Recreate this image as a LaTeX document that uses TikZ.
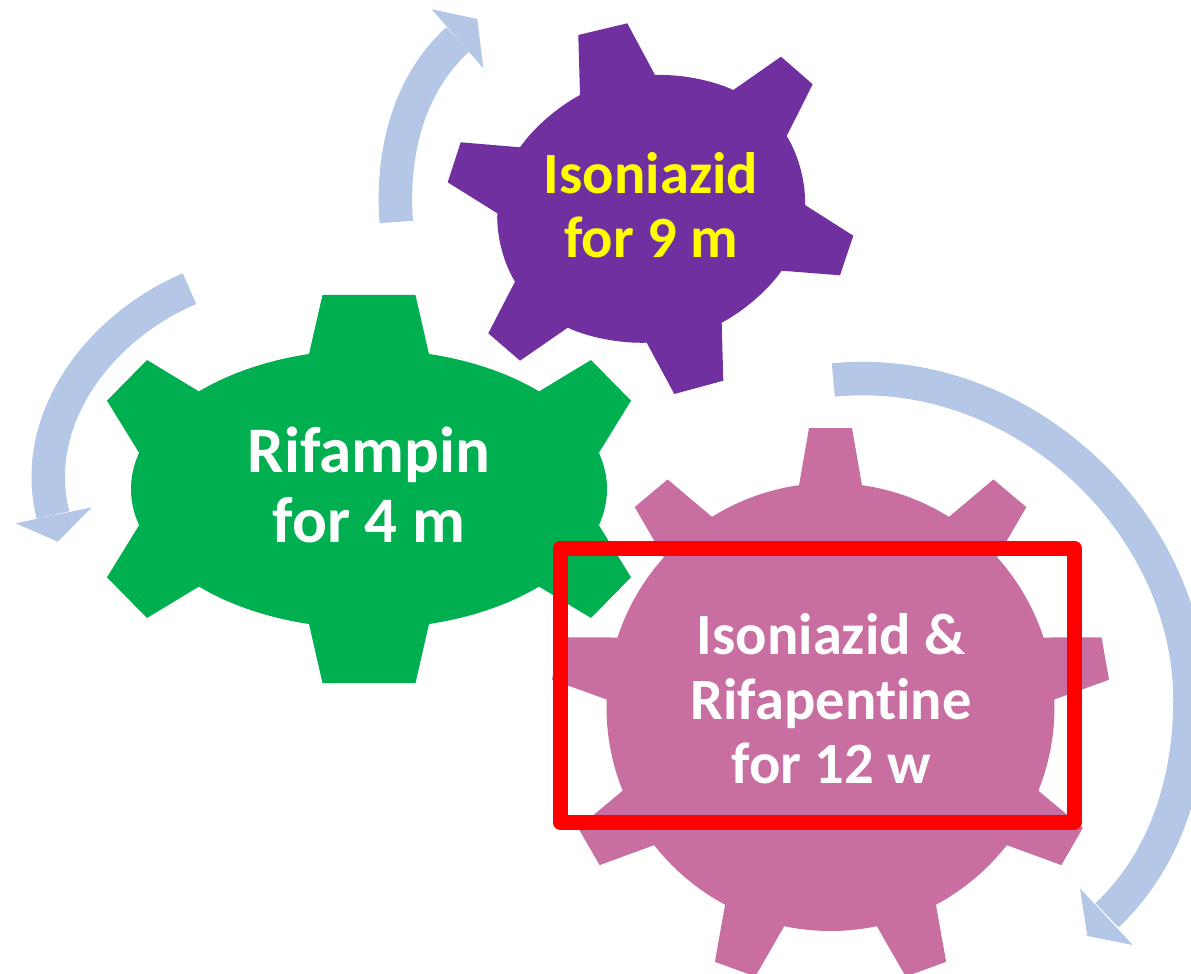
\documentclass[tikz,border=0pt]{standalone}
\usepackage{fontspec}
\setmainfont{Carlito}[Ligatures={NoCommon}]
\usetikzlibrary{calc}
\definecolor{arrowblue}{HTML}{B4C7E7}
\definecolor{gearpurple}{HTML}{7030A0}
\definecolor{geargreen}{HTML}{00B050}
\definecolor{gearpink}{HTML}{C86EA0}
\definecolor{boxred}{HTML}{FF0000}
\definecolor{textyellow}{HTML}{FFFF00}
\begin{document}
\begin{tikzpicture}[x=0.5pt,y=-0.5pt,
  shaft/.style={draw=arrowblue, line width=16.75pt},
  head/.style={fill=arrowblue},
  geartext/.style={align=center, inner sep=0pt, font=\bfseries\fontsize{29.25}{32.25}\selectfont},
  bigtext/.style={align=center, inner sep=0pt, font=\bfseries\fontsize{32.5}{35}\selectfont}]
\useasboundingbox (0,0) rectangle (1191,974);

% ---------- circular arrows ----------
% top arrow
\coordinate (ta0) at (396.3,222);
\coordinate (ta1) at (457.7,39.5);
\coordinate (taw1) at (431.7,9.3);
\coordinate (taw2) at (483.3,68.3);
\coordinate (tat) at (477.3,19);
\draw[shaft] (ta0) .. controls (391.2,154.6) and (407.7,85) .. (ta1);
\fill[head] (taw1) -- (tat) -- (taw2) -- cycle;
% left arrow
\coordinate (la0) at (189.5,288.7);
\coordinate (la1) at (53,515);
\coordinate (law1) at (15.7,523.3);
\coordinate (law2) at (91.7,507.3);
\coordinate (lat) at (57.7,541.7);
\draw[shaft] (la0) .. controls (99,327) and (29,420) .. (la1);
\fill[head] (law1) -- (lat) -- (law2) -- cycle;
% right arrow
\coordinate (ra0) at (833.3,380);
\coordinate (ram) at (1190,700);
\coordinate (ra1) at (1107,915.3);
\coordinate (raw1) at (1080,888.3);
\coordinate (raw2) at (1132.7,945);
\coordinate (rat) at (1087.3,936);
\draw[shaft] (ra0) .. controls (1020.3,361.6) and (1190,522) .. (ram)
  .. controls (1190,780.4) and (1165.5,860.1) .. (ra1);
\fill[head] (raw1) -- (rat) -- (raw2) -- cycle;

% ---------- purple gear ----------
\coordinate (pu) at (651,208);
\fill[gearpurple] plot[smooth cycle, tension=0.6] coordinates {
  (580,95) (655,75) (733.3,90) (786.7,136) (805,205) (781.7,270.7)
  (721.7,322.7) (646.7,342.7) (567.7,327.7) (515,281.7) (497.3,213.3) (520,147.3)};
\fill[gearpurple] (pu) -- (580,95) -- (578.3,35) -- (627.3,23.3) -- (655,75) -- cycle;
\fill[gearpurple] (pu) -- (733.3,90) -- (781,56.7) -- (812.7,84.3) -- (786.7,136) -- cycle;
\fill[gearpurple] (pu) -- (805,205) -- (853.3,235.7) -- (840,275.3) -- (781.7,270.7) -- cycle;
\fill[gearpurple] (pu) -- (721.7,322.7) -- (723.3,380.7) -- (674.3,394) -- (646.7,342.7) -- cycle;
\fill[gearpurple] (pu) -- (567.7,327.7) -- (520,360.7) -- (488.3,333.3) -- (515,281.7) -- cycle;
\fill[gearpurple] (pu) -- (497.3,213.3) -- (447.7,182.3) -- (460.7,142.3) -- (520,147.3) -- cycle;

% ---------- green gear ----------
\coordinate (gc) at (369,489);
\fill[geargreen] (gc) ellipse[x radius=119pt, y radius=69.75pt];
\fill[geargreen] (gc) -- (309,354) -- (322.5,295) -- (415.5,295) -- (429,354) -- cycle;
\fill[geargreen] (gc) -- (429,624) -- (415.5,683) -- (322.5,683) -- (309,624) -- cycle;
\fill[geargreen] (gc) -- (538.6,391.7) -- (591,360) -- (631,400.7) -- (599,452.7) -- cycle;
\fill[geargreen] (gc) -- (199.4,391.7) -- (147,360) -- (107,400.7) -- (139,452.7) -- cycle;
\fill[geargreen] (gc) -- (599,525.3) -- (631,577.3) -- (591,618) -- (538.6,586.3) -- cycle;
\fill[geargreen] (gc) -- (139,525.3) -- (107,577.3) -- (147,618) -- (199.4,586.3) -- cycle;

% ---------- pink gear ----------
\coordinate (pc) at (830.5,707);
\fill[gearpink] (pc) circle[radius=112pt];
\foreach \a in {-90,-50,...,230}{
  \fill[gearpink] (pc) -- ($(pc)+(\a:221.5)+(\a+90:31.5)$) -- ($(pc)+(\a:279)+(\a+90:21.5)$)
    -- ($(pc)+(\a:279)+(\a-90:21.5)$) -- ($(pc)+(\a:221.5)+(\a-90:31.5)$) -- cycle;
}

% ---------- texts ----------
\node[geartext, text=textyellow] (isotext) at (651,205) {Isoniazid\\for 9 m};
\node[bigtext, text=white] (riftext) at (369,485) {Rifampin\\for 4 m};
\node[geartext, text=white] (combotext) at (831,699) {Isoniazid \&\\Rifapentine\\for 12 w};

% ---------- red highlight box ----------
\node[draw=boxred, line width=7.5pt, line join=round, minimum width=257pt, minimum height=137pt, inner sep=0pt] (highlight) at (817,685) {};
\end{tikzpicture}
\end{document}
